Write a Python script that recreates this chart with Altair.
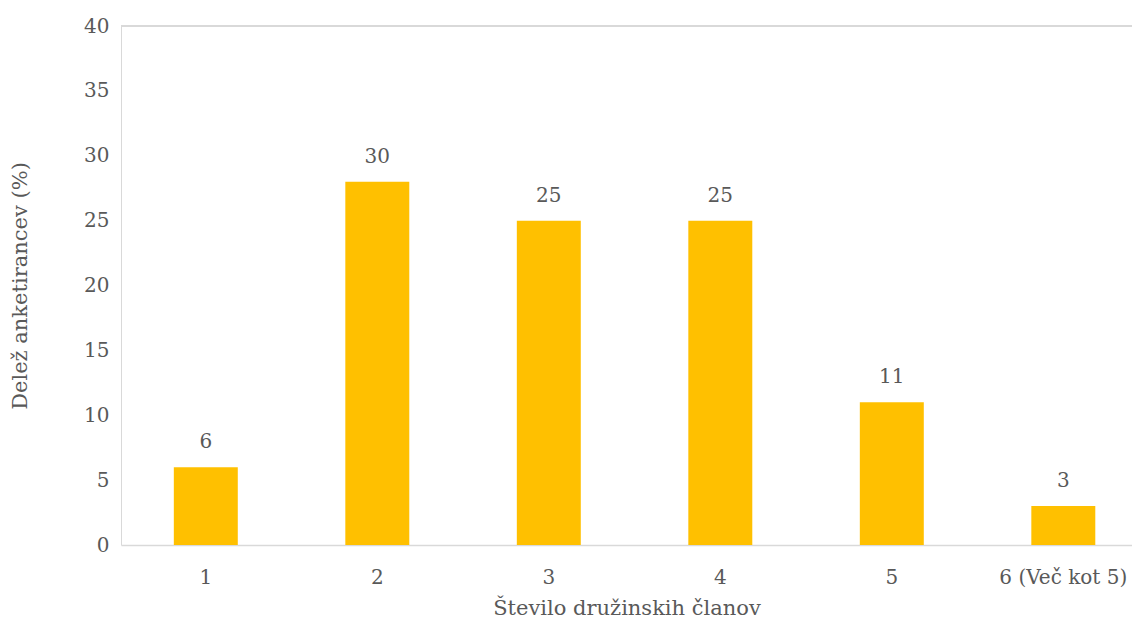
import altair as alt
import pandas as pd

categories = ["1", "2", "3", "4", "5", "6 (Več kot 5)"]
values = [6, 28, 25, 25, 11, 3]
labels = ["6", "30", "25", "25", "11", "3"]

df = pd.DataFrame({"cat": categories, "val": values, "lab": labels})

W, H = 1011, 519
FONT = "DejaVu Serif"
TXT = "#595959"

x = alt.X("cat:N", sort=categories,
          scale=alt.Scale(paddingInner=0.627, paddingOuter=0.261, align=0.59),
          axis=alt.Axis(title="Število družinskih članov", labelAngle=0, ticks=False,
                        domainColor="#d9d9d9", domainWidth=1.5, labelPadding=22,
                        titleY=63, titleBaseline="middle", titlePadding=0))
y = alt.Y("val:Q", scale=alt.Scale(domain=[0, 40], nice=False),
          axis=alt.Axis(title="Delež anketirancev (%)", values=[0, 5, 10, 15, 20, 25, 30, 35, 40],
                        grid=False, ticks=False, domainColor="#d9d9d9", labelPadding=12,
                        titleAngle=270, titleX=-101, titleY=H / 2, titleAlign="center",
                        titleBaseline="middle"))

bars = alt.Chart(df).mark_bar(color="#FFC000").encode(x=x, y=y)
text = alt.Chart(df).mark_text(baseline="bottom", dy=-15, font=FONT, fontSize=20,
                               color=TXT).encode(x=alt.X("cat:N", sort=categories),
                                                 y="val:Q", text="lab:N")
top = alt.Chart(df).mark_rule(color="#d9d9d9", strokeWidth=1.5).encode(
    x=alt.value(0), x2=alt.value(W), y=alt.value(0))

chart = alt.layer(bars, text, top).properties(
    width=W, height=H, autosize="none",
    padding={"left": 113, "top": 18, "right": 0, "bottom": 90}
).configure_view(stroke=None).configure_axis(
    labelFont=FONT, titleFont=FONT, labelFontSize=20, titleFontSize=21,
    labelColor=TXT, titleColor=TXT, titleFontWeight="normal"
)

chart.save("out.html", embed_options={"renderer": "svg", "actions": False})
